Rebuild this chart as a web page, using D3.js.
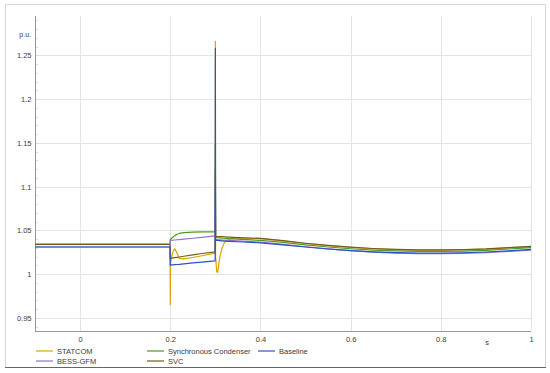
<!DOCTYPE html>
<html>
<head>
<meta charset="utf-8">
<script src="https://cdn.jsdelivr.net/npm/d3@7"></script>
<style>
  body { margin: 0; background: #fff; }
  svg text { font-family: "Liberation Sans", Arial, sans-serif; fill: #3a3a3a; }
  .grid line { stroke: #e4e4e4; stroke-width: 1; }
  .axis path, .axis line { stroke: #999; }
</style>
</head>
<body>
<svg id="chart" width="550" height="373" viewBox="0 0 550 373"></svg>
<script>
// time samples (s), shared by all series
const times = [-0.1, 0.1995, 0.2, 0.2005, 0.203, 0.206, 0.21, 0.215, 0.22, 0.23, 0.25, 0.27, 0.2995,
    0.3, 0.3005, 0.303, 0.305, 0.31, 0.315, 0.32, 0.33, 0.35, 0.4, 0.45, 0.5, 0.55, 0.6, 0.65,
    0.7, 0.75, 0.8, 0.85, 0.9, 0.95, 1.0];

// voltage (p.u.)
const statcom = [1.034, 1.034, 0.965, 1.012, 1.020, 1.026, 1.029, 1.024, 1.018, 1.0175, 1.019, 1.021, 1.024,
    1.266, 1.020, 1.003, 1.002, 1.020, 1.030, 1.036, 1.040, 1.0415, 1.0405, 1.038, 1.035, 1.0325, 1.0305, 1.029,
    1.028, 1.0275, 1.0275, 1.0278, 1.0286, 1.030, 1.0315];
const syncCond = [1.034, 1.034, 1.039, 1.0395, 1.041, 1.0425, 1.044, 1.0455, 1.0465, 1.0475, 1.048, 1.0482, 1.0482,
    1.148, 1.042, 1.042, 1.0418, 1.0415, 1.0412, 1.041, 1.0405, 1.040, 1.0385, 1.0362, 1.0335, 1.031, 1.029, 1.0275,
    1.0265, 1.026, 1.026, 1.0263, 1.0272, 1.0287, 1.0303];
const baseline = [1.031, 1.031, 1.0103, 1.0103, 1.0105, 1.0106, 1.0108, 1.011, 1.0112, 1.0118, 1.0128, 1.0138, 1.0152,
    1.258, 1.0385, 1.0385, 1.0384, 1.0382, 1.038, 1.0378, 1.0375, 1.037, 1.0358, 1.0335, 1.031, 1.0287, 1.0268, 1.0254,
    1.0245, 1.024, 1.024, 1.0244, 1.0253, 1.0266, 1.0282];
const bessGfm = [1.031, 1.031, 1.0385, 1.0385, 1.0387, 1.0388, 1.039, 1.0393, 1.0395, 1.040, 1.041, 1.042, 1.0437,
    1.100, 1.0395, 1.0395, 1.0394, 1.0392, 1.039, 1.0388, 1.0385, 1.038, 1.0365, 1.034, 1.0313, 1.0288, 1.0268, 1.0252,
    1.0241, 1.0235, 1.0234, 1.0238, 1.0246, 1.0259, 1.0274];
const svc = [1.034, 1.034, 1.018, 1.018, 1.0182, 1.0185, 1.0188, 1.0192, 1.0196, 1.0204, 1.022, 1.0236, 1.0254,
    1.120, 1.043, 1.043, 1.043, 1.043, 1.0428, 1.0426, 1.0423, 1.0418, 1.0408, 1.0383, 1.0353, 1.0328, 1.0308, 1.0293,
    1.0283, 1.0278, 1.0278, 1.0281, 1.0289, 1.0303, 1.0318];

const xTicks = [0, 0.2, 0.4, 0.6, 0.8, 1];
const yTicks = [0.95, 1, 1.05, 1.1, 1.15, 1.2, 1.25];

const series = [
    { name: "STATCOM", values: statcom, color: "#d8a400" },
    { name: "Synchronous Condenser", values: syncCond, color: "#4f9a22" },
    { name: "SVC", values: svc, color: "#7a5a1c" },
    { name: "BESS-GFM", values: bessGfm, color: "#8c74d4" },
    { name: "Baseline", values: baseline, color: "#2a52c4" }
];
const legendOrder = ["STATCOM", "Synchronous Condenser", "Baseline", "BESS-GFM", "SVC"];

const svg = d3.select("#chart");

// outer frame
svg.append("rect")
    .attr("x", 5.5).attr("y", 4.5)
    .attr("width", 540).attr("height", 363)
    .attr("fill", "none")
    .attr("stroke", "#d8d8d8");
svg.append("line")
    .attr("x1", 5).attr("x2", 546)
    .attr("y1", 367.5).attr("y2", 367.5)
    .attr("stroke", "#666");

const plotLeft = 35, plotRight = 531, plotTop = 16, plotBottom = 331;
const x = d3.scaleLinear().domain([-0.1, 1.0]).range([plotLeft, plotRight]);
const y = d3.scaleLinear().domain([0.935, 1.295]).range([plotBottom, plotTop]);

// grid
const grid = svg.append("g").attr("class", "grid");
grid.selectAll(".gy")
    .data(yTicks)
    .enter()
    .append("line")
    .attr("x1", plotLeft).attr("x2", plotRight)
    .attr("y1", d => Math.round(y(d)) + 0.5)
    .attr("y2", d => Math.round(y(d)) + 0.5);
grid.selectAll(".gx")
    .data(xTicks)
    .enter()
    .append("line")
    .attr("y1", plotTop).attr("y2", plotBottom)
    .attr("x1", d => Math.round(x(d)) + 0.5)
    .attr("x2", d => Math.round(x(d)) + 0.5);

// minor ticks on the y axis
svg.append("g")
    .selectAll("line")
    .data(d3.range(94, 130).map(d => d / 100))
    .enter()
    .append("line")
    .attr("x1", plotLeft).attr("x2", plotLeft + 3)
    .attr("y1", d => Math.round(y(d)) + 0.5)
    .attr("y2", d => Math.round(y(d)) + 0.5)
    .attr("stroke", "#ddd");

// axes
const xAxis = svg.append("g")
    .attr("class", "axis")
    .attr("transform", "translate(0," + (plotBottom + 0.5) + ")")
    .call(d3.axisBottom(x).tickValues(xTicks).tickSize(0).tickPadding(5).tickFormat(d3.format("~g")));
xAxis.select(".domain").attr("d", "M" + plotLeft + ",0H" + plotRight);
xAxis.selectAll("text").style("font-size", "7.5px");

const yAxis = svg.append("g")
    .attr("class", "axis")
    .attr("transform", "translate(" + (plotLeft + 0.5) + ",0)")
    .call(d3.axisLeft(y).tickValues(yTicks).tickSize(0).tickPadding(4).tickFormat(d3.format("~g")));
yAxis.select(".domain").attr("d", "M0," + plotTop + "V" + plotBottom);
yAxis.selectAll("text").style("font-size", "7.5px");

// axis units
svg.append("text")
    .attr("x", 31).attr("y", 37)
    .attr("text-anchor", "end")
    .style("font-size", "7px")
    .text("p.u.");
svg.append("text")
    .attr("x", 487).attr("y", 345)
    .attr("text-anchor", "middle")
    .style("font-size", "7.5px")
    .text("s");

// traces
const line = d3.line()
    .x((d, i) => x(times[i]))
    .y(d => y(d));

svg.append("g")
    .selectAll("path")
    .data(series)
    .enter()
    .append("path")
    .attr("d", d => line(d.values))
    .attr("fill", "none")
    .attr("stroke", d => d.color)
    .attr("stroke-width", 1.2)
    .attr("stroke-linejoin", "round");

// legend
const legendX = [36, 147, 258];
const legendY = [351, 361];
const legend = svg.append("g")
    .selectAll("g")
    .data(legendOrder.map(n => series.find(s => s.name === n)))
    .enter()
    .append("g")
    .attr("transform", (d, i) => "translate(" + legendX[i % 3] + "," + legendY[Math.floor(i / 3)] + ")");
legend.append("line")
    .attr("x1", 0).attr("x2", 17)
    .attr("y1", 0).attr("y2", 0)
    .attr("stroke", d => d.color)
    .attr("stroke-width", 1.2);
legend.append("text")
    .attr("x", 21).attr("y", 2.5)
    .style("font-size", "7.5px")
    .text(d => d.name);
</script>
</body>
</html>
